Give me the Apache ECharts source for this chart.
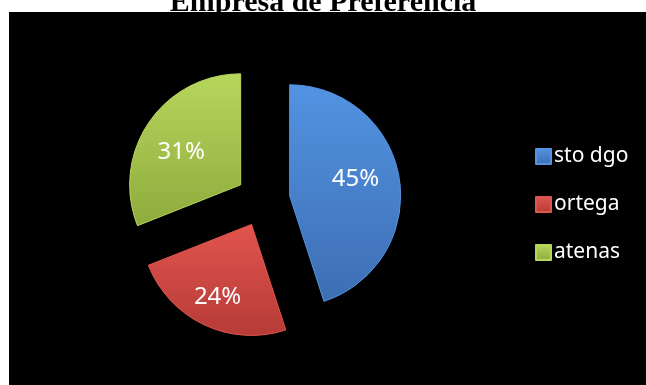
<!DOCTYPE html>
<html>
<head>
<meta charset="utf-8">
<script src="https://cdn.jsdelivr.net/npm/echarts@6/dist/echarts.min.js"></script>
<style>
  html, body { margin: 0; padding: 0; background: #ffffff; }
  #chart { width: 646px; height: 385px; }
</style>
</head>
<body>
<div id="chart"></div>
<script>
// Preference share by company
const categories = ['sto dgo', 'ortega', 'atenas'];
const shares = [45, 24, 31];

// Top / bottom shades for each slice's gradient
const topShades = ['#5393e2', '#e2544e', '#b7d65c'];
const bottomShades = ['#3d6eb3', '#b63b37', '#8eab3d'];

// Small nudges so each percentage sits where it reads best inside its slice
const labelNudge = [[8, -7], [-9, 20], [-11, 0]];

function sliceFill(i) {
  return new echarts.graphic.LinearGradient(0, 0, 0, 1, [
    { offset: 0, color: topShades[i] },
    { offset: 1, color: bottomShades[i] }
  ]);
}

const chart = echarts.init(document.getElementById('chart'), null, { renderer: 'canvas' });

chart.setOption({
  backgroundColor: '#ffffff',
  animation: false,
  title: {
    text: 'Empresa de Preferencia',
    left: 'center',
    top: -17,
    textStyle: {
      fontFamily: '"Liberation Serif", "Times New Roman", serif',
      fontWeight: 'bold',
      fontSize: 30,
      color: '#000000'
    }
  },
  graphic: [{
    type: 'rect',
    z: -10,
    silent: true,
    shape: { x: 9, y: 12, width: 637, height: 373 },
    style: { fill: '#000000' }
  }],
  legend: {
    orient: 'vertical',
    left: 530,
    top: 141,
    itemWidth: 15,
    itemHeight: 15,
    itemGap: 27,
    icon: 'rect',
    data: categories,
    textStyle: {
      color: '#ffffff',
      fontFamily: '"Noto Sans", sans-serif',
      fontSize: 21,
      padding: [0, 0, 0, -2]
    }
  },
  series: [{
    type: 'pie',
    center: [263, 200],
    radius: 111,
    startAngle: 90,
    clockwise: true,
    selectedMode: 'multiple',
    selectedOffset: 27,
    percentPrecision: 0,
    emphasis: { disabled: true },
    label: {
      show: true,
      position: 'inside',
      formatter: '{d}%',
      color: '#ffffff',
      fontFamily: '"Noto Sans", sans-serif',
      fontSize: 24
    },
    labelLayout: function (params) {
      const n = labelNudge[params.dataIndex];
      return { dx: n[0], dy: n[1] };
    },
    labelLine: { show: false },
    data: categories.map((name, i) => ({
      name: name,
      value: shares[i],
      selected: true,
      itemStyle: {
        color: sliceFill(i),
        borderColor: topShades[i],
        borderWidth: 1
      }
    }))
  }]
});
</script>
</body>
</html>
